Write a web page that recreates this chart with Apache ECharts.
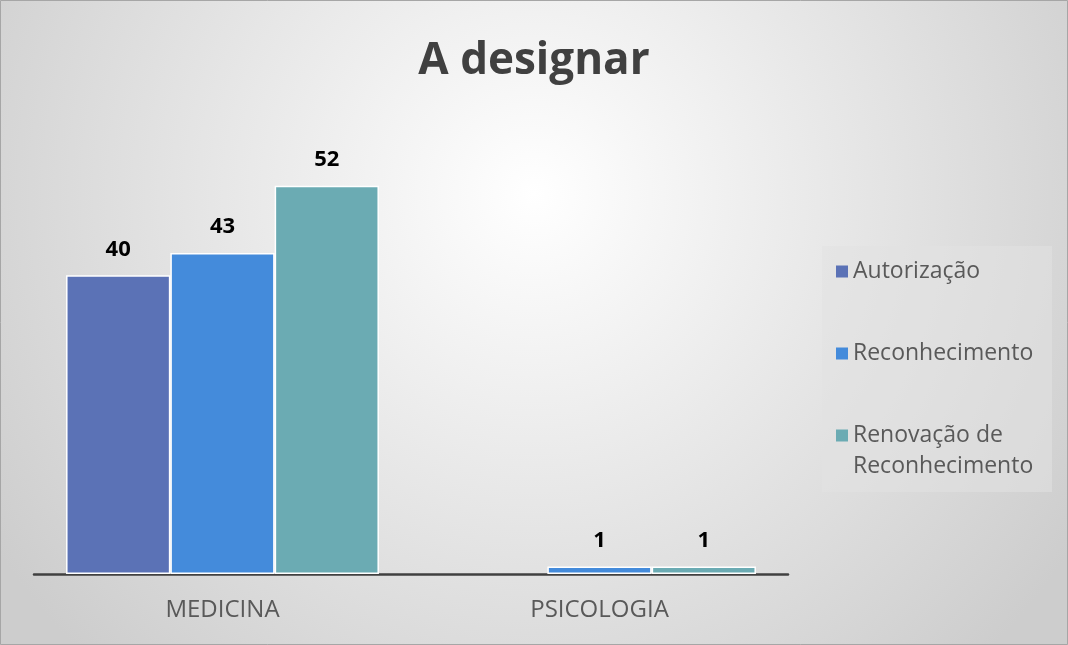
<!DOCTYPE html>
<html>
<head>
<meta charset="utf-8">
<script src="https://cdn.jsdelivr.net/npm/echarts@6/dist/echarts.min.js"></script>
<style>
html,body{margin:0;padding:0;background:#fff;}
#chart{width:1068px;height:645px;}
</style>
</head>
<body>
<div id="chart"></div>
<script>
const categories = ['MEDICINA', 'PSICOLOGIA'];
const seriesNames = ['Autorização', 'Reconhecimento', 'Renovação de Reconhecimento'];
const autorizacao = [40, null];
const reconhecimento = [43, 1];
const renovacao = [52, 1];
const colors = ['#5B72B6', '#448BDB', '#6BABB3'];

const FONT = '"Open Sans", "Noto Sans", sans-serif';
const chart = echarts.init(document.getElementById('chart'));

function barSeries(name, data, color) {
  return {
    name: name,
    type: 'bar',
    data: data,
    barGap: '0%',
    barCategoryGap: '17%',
    itemStyle: { color: color, borderColor: '#ffffff', borderWidth: 1.5 },
    label: {
      show: true,
      position: 'top',
      distance: 15,
      fontSize: 22,
      fontWeight: 'bold',
      color: '#000000',
      fontFamily: FONT
    }
  };
}

const legendText = { fontSize: 23, color: '#595959', fontFamily: FONT, lineHeight: 31 };
const legendCommon = {
  orient: 'vertical',
  itemWidth: 12,
  itemHeight: 12,
  itemGap: 51,
  itemStyle: { borderWidth: 0 },
  icon: 'rect',
  textStyle: legendText
};

chart.setOption({
  backgroundColor: {
    type: 'radial', x: 0.5, y: 0.3, r: 1.0,
    colorStops: [{ offset: 0, color: '#ffffff' }, { offset: 1, color: '#cdcdcd' }]
  },
  animation: false,
  graphic: [{
    type: 'rect',
    shape: { x: 0.5, y: 0.5, width: 1067, height: 644 },
    style: { fill: 'none', stroke: '#a6a6a6', lineWidth: 1 },
    silent: true
  }, {
    type: 'rect',
    shape: { x: 822, y: 246, width: 230, height: 246 },
    style: { fill: 'rgba(225,225,225,0.55)' },
    silent: true
  }],
  title: {
    text: 'A designar',
    left: 'center',
    top: 34,
    textStyle: { fontSize: 44, fontWeight: 'bold', color: '#404040', fontFamily: FONT }
  },
  legend: [
    Object.assign({}, legendCommon, {
      left: 822,
      top: 246,
      padding: [10, 16, 10, 14],
      data: [seriesNames[0], seriesNames[1]]
    }),
    Object.assign({}, legendCommon, {
      left: 836,
      top: 389,
      padding: 0,
      data: [seriesNames[2]],
      formatter: function (n) { return '\u00a0\n' + n.replace(' de ', ' de\n'); }
    })
  ],
  grid: { left: 34, right: 280, top: 126, bottom: 71, containLabel: false },
  xAxis: {
    type: 'category',
    data: categories,
    axisTick: { show: false },
    axisLine: { lineStyle: { color: '#404040', width: 2.5 } },
    axisLabel: { fontSize: 24, color: '#595959', fontFamily: FONT, margin: 24 }
  },
  yAxis: {
    type: 'value',
    min: 0,
    max: 60,
    show: false,
    splitLine: { show: false }
  },
  series: [
    barSeries(seriesNames[0], autorizacao, colors[0]),
    barSeries(seriesNames[1], reconhecimento, colors[1]),
    barSeries(seriesNames[2], renovacao, colors[2])
  ]
});
</script>
</body>
</html>
